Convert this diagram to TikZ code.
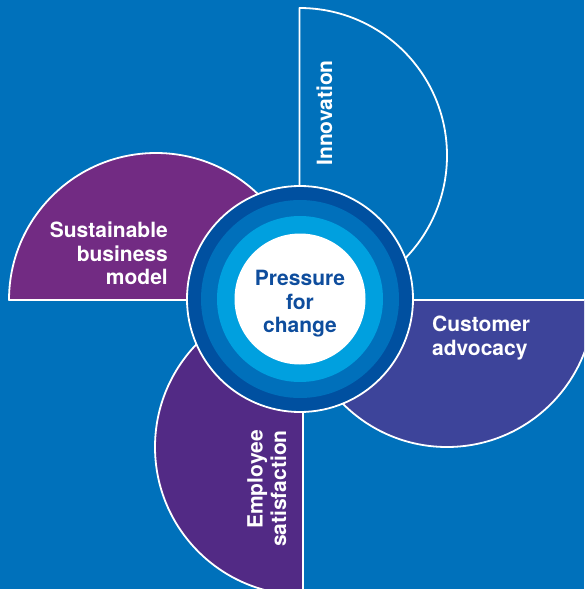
\documentclass[tikz,border=0pt]{standalone}
\usepackage{fontspec}
\setsansfont{TeX Gyre Heros}
\definecolor{bg}{HTML}{0071BB}
\definecolor{sbmcol}{HTML}{722B83}
\definecolor{custcol}{HTML}{3D449A}
\definecolor{empcol}{HTML}{522A85}
\definecolor{ringdark}{HTML}{0050A0}
\definecolor{ringmid}{HTML}{0070BB}
\definecolor{ringcyan}{HTML}{00A0DF}
\definecolor{ctext}{HTML}{0E4D9D}
\begin{document}
\begin{tikzpicture}[x=1pt,y=-1pt,
  seg/.style={draw=white,line width=1.8pt,line join=round},
  lbl/.style={text=white,font=\sffamily\bfseries\fontsize{21}{23.5}\selectfont,inner sep=0pt},
  ctr/.style={text=ctext,font=\sffamily\bfseries\fontsize{21}{23.5}\selectfont,inner sep=0pt}
]
\fill[bg] (0,0) rectangle (584,589);
\useasboundingbox (0,0) rectangle (584,589);
\begin{scope}
\clip (0,0) rectangle (584,589);
% Innovation
\path[seg,fill=bg] (299.5,8) arc[start angle=-90,end angle=90,radius=147.5] -- cycle;
% Sustainable business model
\path[seg,fill=sbmcol] (9,300) arc[start angle=180,end angle=360,radius=147] -- cycle;
% Customer advocacy
\path[seg,fill=custcol] (300,300) arc[start angle=180,end angle=0,radius=147] -- cycle;
% Employee satisfaction
\path[seg,fill=empcol] (303,299) arc[start angle=270,end angle=90,radius=148] -- cycle;
% centre rings
\fill[ringdark,draw=white,line width=1.8pt] (300,299) circle[radius=113];
\fill[ringmid] (300,299) circle[radius=99];
\fill[ringcyan] (300,299) circle[radius=83];
\fill[white] (300,299) circle[radius=65.5];
\end{scope}
\node[lbl,align=right,anchor=north east] (sbm) at (168,222) {Sustainable\\business\\model};
\node[lbl,rotate=90,anchor=base east] (inn) at (332,60) {Innovation};
\node[lbl,align=left,anchor=north west] (cust) at (432,316) {Customer\\advocacy};
\node[lbl,rotate=90,align=right,anchor=north east] (emp) at (247,430) {Employee\\satisfaction};
\node[ctr,align=center,anchor=north] (pfc) at (300,270) {Pressure\\for\\change};
\end{tikzpicture}
\end{document}
